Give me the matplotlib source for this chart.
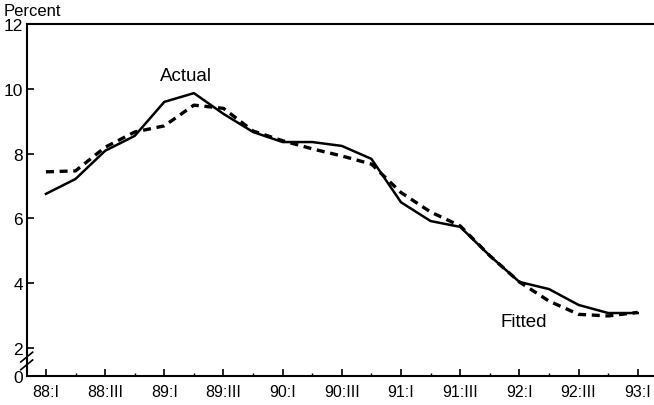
import matplotlib.pyplot as plt
from matplotlib.ticker import FixedLocator

plt.rcParams['font.family'] = ['Liberation Sans', 'DejaVu Sans']

# Quarterly data, 88:I to 93:I
quarters = ['88:I', '88:II', '88:III', '88:IV', '89:I', '89:II', '89:III', '89:IV',
            '90:I', '90:II', '90:III', '90:IV', '91:I', '91:II', '91:III', '91:IV',
            '92:I', '92:II', '92:III', '92:IV', '93:I']
actual = [6.76, 7.22, 8.09, 8.55, 9.6, 9.87, 9.23, 8.67, 8.36, 8.36, 8.24, 7.84,
          6.5, 5.92, 5.74, 4.85, 4.04, 3.82, 3.33, 3.08, 3.08]
fitted = [7.44, 7.47, 8.2, 8.67, 8.86, 9.5, 9.4, 8.7, 8.4, 8.15, 7.93, 7.68,
          6.8, 6.2, 5.77, 4.85, 4.04, 3.45, 3.04, 2.99, 3.1]
tick_labels = ['88:I', '88:III', '89:I', '89:III', '90:I', '90:III', '91:I',
               '91:III', '92:I', '92:III', '93:I']

# broken axis: zero sits just below 2
zero_pos = 1.135

x = list(range(len(quarters)))

fig = plt.figure(figsize=(6.54, 4.06), dpi=100)
ax = fig.add_axes([0.0413, 0.0714, 0.9587, 0.8666])

ax.plot(x, actual, color='black', lw=1.8, solid_joinstyle='round')
ax.plot(x, fitted, color='black', lw=2.4, dashes=(2.4, 1.7))

ax.set_xlim(-0.64, 20.55)
ax.set_ylim(zero_pos, 12)

ax.set_xticks(x[::2])
ax.set_xticklabels(tick_labels, fontsize=11.5)
ax.xaxis.set_minor_locator(FixedLocator(x[1::2]))
ax.set_yticks([zero_pos, 2, 4, 6, 8, 10, 12])
ax.set_yticklabels(['0', '2', '4', '6', '8', '10', '12'], fontsize=12.5)

ax.tick_params(axis='both', which='major', direction='in', length=5, width=1.2)
ax.tick_params(axis='x', which='minor', direction='in', length=2, width=1)
ax.tick_params(axis='x', pad=6)
ax.tick_params(axis='y', pad=3)

ax.spines['right'].set_visible(False)
for s in ['left', 'bottom', 'top']:
    ax.spines[s].set_linewidth(1.5)

# axis break marks
for yb in [1.48, 1.72]:
    ax.plot([-0.85, -0.45], [yb - 0.15, yb + 0.15], color='black', lw=1.2,
            clip_on=False)

ax.text(4.72, 10.4, 'Actual', fontsize=13.5, ha='center', va='center')
ax.text(16.15, 2.83, 'Fitted', fontsize=13.5, ha='center', va='center')
fig.text(0.005, 0.99, 'Percent', fontsize=12, ha='left', va='top')

fig.savefig('out.png', dpi=100)
